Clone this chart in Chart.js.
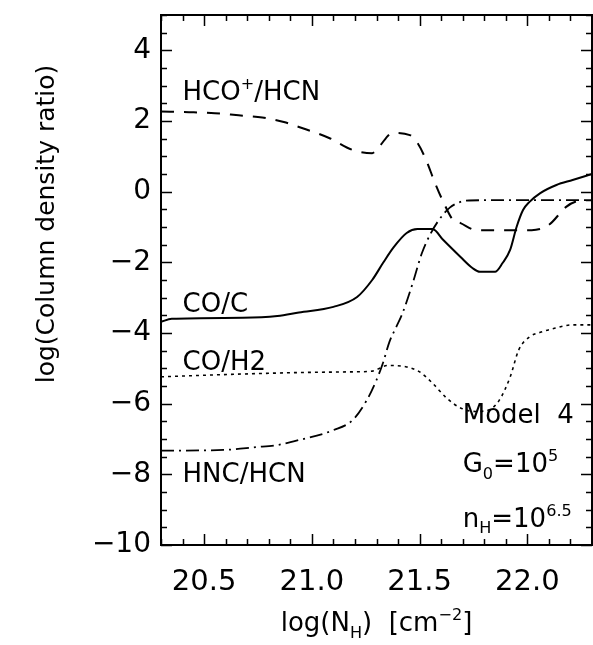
<!DOCTYPE html>
<html>
<head>
<meta charset="utf-8">
<script src="https://cdn.jsdelivr.net/npm/chart.js@4.4.1/dist/chart.umd.min.js"></script>
<style>
  html, body { margin: 0; padding: 0; background: #fff; }
</style>
</head>
<body>
<canvas id="grafico" width="593" height="645"></canvas>
<script>
// log(N_H) e log(razão de densidade de coluna) de cada curva do modelo 4
const nhHcoHcn = [20.30, 20.43, 20.55, 20.66, 20.77, 20.87, 20.94, 21.08, 21.19, 21.28, 21.31, 21.375, 21.455, 21.49, 21.53, 21.57, 21.61, 21.655, 21.69, 21.765, 22.02, 22.10, 22.18, 22.23, 22.30];
const razaoHcoHcn = [2.27, 2.25, 2.22, 2.16, 2.10, 1.97, 1.83, 1.52, 1.18, 1.09, 1.26, 1.66, 1.60, 1.38, 0.90, 0.27, -0.29, -0.80, -0.89, -1.09, -1.09, -0.94, -0.43, -0.27, -0.24];

const nhCoC = [20.30, 20.35, 20.68, 20.84, 20.94, 21.10, 21.21, 21.28, 21.33, 21.38, 21.44, 21.49, 21.56, 21.61, 21.69, 21.745, 21.78, 21.85, 21.885, 21.92, 21.95, 21.98, 22.01, 22.06, 22.135, 22.21, 22.30];
const razaoCoC = [-3.68, -3.60, -3.57, -3.52, -3.42, -3.26, -2.98, -2.50, -2.02, -1.57, -1.17, -1.06, -1.06, -1.37, -1.85, -2.16, -2.27, -2.27, -2.02, -1.65, -1.00, -0.52, -0.29, -0.04, 0.19, 0.33, 0.50];

const nhCoH2 = [20.30, 20.68, 20.94, 21.18, 21.28, 21.35, 21.44, 21.50, 21.56, 21.625, 21.69, 21.76, 21.82, 21.87, 21.92, 21.96, 22.01, 22.06, 22.13, 22.21, 22.30];
const razaoCoH2 = [-5.24, -5.16, -5.12, -5.10, -5.08, -4.92, -4.96, -5.10, -5.42, -5.84, -6.12, -6.22, -6.18, -5.90, -5.25, -4.48, -4.11, -3.98, -3.86, -3.77, -3.77];

const nhHncHcn = [20.30, 20.59, 20.74, 20.84, 20.94, 21.10, 21.19, 21.255, 21.30, 21.33, 21.36, 21.39, 21.42, 21.47, 21.51, 21.55, 21.59, 21.64, 21.69, 21.73, 21.87, 22.30];
const razaoHncHcn = [-7.33, -7.31, -7.23, -7.17, -7.03, -6.75, -6.46, -5.90, -5.33, -4.85, -4.25, -3.85, -3.45, -2.55, -1.75, -1.20, -0.80, -0.45, -0.29, -0.25, -0.24, -0.24];

// marcas dos eixos
const ticksX = [20.5, 21.0, 21.5, 22.0];
const ticksY = [-10, -8, -6, -4, -2, 0, 2, 4];

const FONTE = "'DejaVu Sans', sans-serif";

function pares(xs, ys) {
    return xs.map((x, i) => ({ x: x, y: ys[i] }));
}

function serie(rotulo, xs, ys, tracejado, largura) {
    return {
        label: rotulo,
        data: pares(xs, ys),
        borderColor: '#000',
        borderWidth: largura,
        borderDash: tracejado,
        pointRadius: 0,
        fill: false,
        cubicInterpolationMode: 'monotone'
    };
}

// Escreve um texto com partes em sobrescrito/subscrito, a partir de (x, y) na linha de base
function textoRico(ctx, partes, x, y, tam) {
    let cx = x;
    partes.forEach(p => {
        let t = tam, dy = 0;
        if (p.sup) { t = tam * 0.62; dy = -tam * 0.42; }
        if (p.sub) { t = tam * 0.62; dy = tam * 0.25; }
        ctx.font = t + 'px ' + FONTE;
        ctx.fillText(p.t, cx, y + dy);
        cx += ctx.measureText(p.t).width;
    });
    return cx - x;
}

function larguraRica(ctx, partes, tam) {
    let w = 0;
    partes.forEach(p => {
        const t = (p.sup || p.sub) ? tam * 0.62 : tam;
        ctx.font = t + 'px ' + FONTE;
        w += ctx.measureText(p.t).width;
    });
    return w;
}

// moldura com marcas maiores e menores nos quatro lados
const moldura = {
    id: 'moldura',
    afterDraw(chart) {
        const ctx = chart.ctx;
        const a = chart.chartArea;
        const sx = chart.scales.x, sy = chart.scales.y;
        ctx.save();
        ctx.strokeStyle = '#000';
        ctx.lineWidth = 2;
        ctx.strokeRect(a.left, a.top, a.right - a.left, a.bottom - a.top);
        ctx.lineWidth = 1.5;
        ctx.beginPath();
        for (let i = 203; i <= 223; i++) {
            const v = i / 10;
            if (v < sx.min - 1e-9 || v > sx.max + 1e-9) continue;
            const px = Math.round(sx.getPixelForValue(v)) + 0.5;
            const L = (i % 5 === 0) ? 11 : 6;
            ctx.moveTo(px, a.bottom); ctx.lineTo(px, a.bottom - L);
            ctx.moveTo(px, a.top); ctx.lineTo(px, a.top + L);
        }
        for (let j = -20; j <= 10; j++) {
            const v = j / 2;
            if (v < sy.min || v > sy.max) continue;
            const py = Math.round(sy.getPixelForValue(v)) + 0.5;
            const L = (j % 4 === 0) ? 11 : 6;
            ctx.moveTo(a.left, py); ctx.lineTo(a.left + L, py);
            ctx.moveTo(a.right, py); ctx.lineTo(a.right - L, py);
        }
        ctx.stroke();

        // títulos dos eixos
        ctx.fillStyle = '#000';
        ctx.textBaseline = 'alphabetic';
        const tituloX = [{ t: 'log(N' }, { t: 'H', sub: true }, { t: ')  [cm' }, { t: '\u22122', sup: true }, { t: ']' }];
        const wx = larguraRica(ctx, tituloX, 26);
        textoRico(ctx, tituloX, (a.left + a.right) / 2 - wx / 2, 631, 26);

        ctx.translate(54, 224);
        ctx.rotate(-Math.PI / 2);
        ctx.font = '25px ' + FONTE;
        ctx.textAlign = 'center';
        ctx.fillText('log(Column density ratio)', 0, 0);
        ctx.restore();
    }
};

// nomes das curvas e parâmetros do modelo
const rotulos = {
    id: 'rotulos',
    afterDatasetsDraw(chart) {
        const ctx = chart.ctx;
        const sx = chart.scales.x, sy = chart.scales.y;
        ctx.save();
        ctx.fillStyle = '#000';
        ctx.textBaseline = 'alphabetic';
        ctx.textAlign = 'left';
        const itens = [
            { x: 20.40, y: 2.59, partes: [{ t: 'HCO' }, { t: '+', sup: true }, { t: '/HCN' }] },
            { x: 20.40, y: -3.41, partes: [{ t: 'CO/C' }] },
            { x: 20.40, y: -5.05, partes: [{ t: 'CO/H2' }] },
            { x: 20.40, y: -8.22, partes: [{ t: 'HNC/HCN' }] },
            { x: 21.70, y: -6.55, partes: [{ t: 'Model  4' }] },
            { x: 21.70, y: -7.94, partes: [{ t: 'G' }, { t: '0', sub: true }, { t: '=10' }, { t: '5', sup: true }] },
            { x: 21.70, y: -9.49, partes: [{ t: 'n' }, { t: 'H', sub: true }, { t: '=10' }, { t: '6.5', sup: true }] }
        ];
        itens.forEach(it => {
            textoRico(ctx, it.partes, sx.getPixelForValue(it.x), sy.getPixelForValue(it.y), 26);
        });
        ctx.restore();
    }
};

const config = {
    type: 'line',
    data: {
        datasets: [
            serie('HCO+/HCN', nhHcoHcn, razaoHcoHcn, [13, 10], 2),
            serie('CO/C', nhCoC, razaoCoC, [], 2),
            serie('CO/H2', nhCoH2, razaoCoH2, [3, 4], 1.6),
            serie('HNC/HCN', nhHncHcn, razaoHncHcn, [13, 5, 2, 5], 1.8)
        ]
    },
    options: {
        responsive: false,
        animation: false,
        devicePixelRatio: 1,
        layout: { padding: { top: 15, right: 1, left: 0, bottom: 0 } },
        plugins: {
            legend: { display: false },
            tooltip: { enabled: false },
            title: { display: false }
        },
        scales: {
            x: {
                type: 'linear',
                min: 20.3,
                max: 22.3,
                grid: { display: false, drawTicks: false },
                border: { display: false },
                ticks: {
                    color: '#000',
                    font: { family: FONTE, size: 29 },
                    padding: 20,
                    maxRotation: 0,
                    callback: v => v.toFixed(1)
                },
                afterBuildTicks: s => { s.ticks = ticksX.map(v => ({ value: v })); },
                afterFit: s => { s.height = 100; s.paddingLeft = 0; s.paddingRight = 0; }
            },
            y: {
                type: 'linear',
                min: -10,
                max: 5,
                grid: { display: false, drawTicks: false },
                border: { display: false },
                ticks: {
                    color: '#000',
                    font: { family: FONTE, size: 28 },
                    padding: 10,
                    callback: v => String(v).replace('-', '\u2212')
                },
                afterBuildTicks: s => { s.ticks = ticksY.map(v => ({ value: v })); },
                afterFit: s => { s.width = 161; s.paddingTop = 0; s.paddingBottom = 0; }
            }
        }
    },
    plugins: [moldura, rotulos]
};

new Chart(document.getElementById('grafico').getContext('2d'), config);
</script>
</body>
</html>
